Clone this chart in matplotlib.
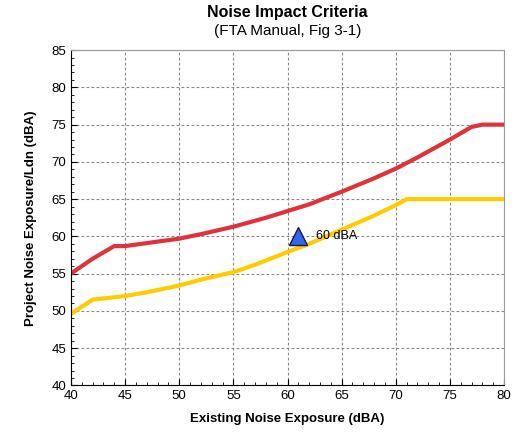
import numpy as np
import matplotlib
matplotlib.use("Agg")
import matplotlib.pyplot as plt
from matplotlib.ticker import MultipleLocator

plt.rcParams['font.family'] = ['Liberation Sans', 'DejaVu Sans']

# criteria curves
red_x = [40, 42, 44, 45, 48, 50, 52, 55, 58, 60, 62, 65, 68, 70, 72, 75, 77, 78, 80]
red_y = [55.0, 57.0, 58.7, 58.7, 59.3, 59.7, 60.3, 61.3, 62.5, 63.4, 64.3, 66.0, 67.8, 69.1, 70.6, 73.0, 74.7, 75.0, 75.0]

yel_x = [40, 42, 45, 47, 49, 50, 52, 55, 57, 60, 62, 65, 68, 70, 71, 80]
yel_y = [49.6, 51.5, 52.0, 52.5, 53.1, 53.4, 54.2, 55.2, 56.2, 57.9, 59.0, 60.9, 62.8, 64.2, 65.0, 65.0]

point_x = [61]
point_y = [60]
point_label = "60 dBA"

fig = plt.figure(figsize=(5.29, 4.36), dpi=100)
ax = fig.add_axes([0.134, 0.116, 0.819, 0.769])

ax.plot(red_x, red_y, color='#E0323A', lw=3, solid_capstyle='butt')
ax.plot(yel_x, yel_y, color='#FFCC00', lw=3, solid_capstyle='butt')
ax.plot(point_x, point_y, marker='^', ms=13, color='#3366EE', mec='#1a1a4a', mew=1, ls='none', zorder=5)
ax.text(point_x[0] + 1.6, point_y[0], point_label, fontsize=9, va='center')

ax.set_xlim(40, 80)
ax.set_ylim(40, 85)
ax.xaxis.set_major_locator(MultipleLocator(5))
ax.yaxis.set_major_locator(MultipleLocator(5))
ax.xaxis.set_minor_locator(MultipleLocator(1))
ax.yaxis.set_minor_locator(MultipleLocator(1))
ax.tick_params(which='both', direction='in', labelsize=9.5)
ax.tick_params(which='major', length=4)
ax.tick_params(which='minor', length=2)
ax.tick_params(top=False, right=False)
ax.grid(True, which='major', color='#888888', ls=(0, (2.5, 2)), lw=0.8)

for s in ['top', 'right']:
    ax.spines[s].set_color('#999999')
for s in ['left', 'bottom']:
    ax.spines[s].set_color('black')

ax.set_xlabel('Existing Noise Exposure (dBA)', fontsize=9.5, fontweight='bold', labelpad=8)
ax.set_ylabel('Project Noise Exposure/Ldn (dBA)', fontsize=9.5, fontweight='bold', labelpad=10)

fig.text(0.543, 0.972, 'Noise Impact Criteria', ha='center', va='center', fontsize=11.5, fontweight='bold')
fig.text(0.543, 0.93, '(FTA Manual, Fig 3-1)', ha='center', va='center', fontsize=11)

fig.savefig('out.png', dpi=100)
